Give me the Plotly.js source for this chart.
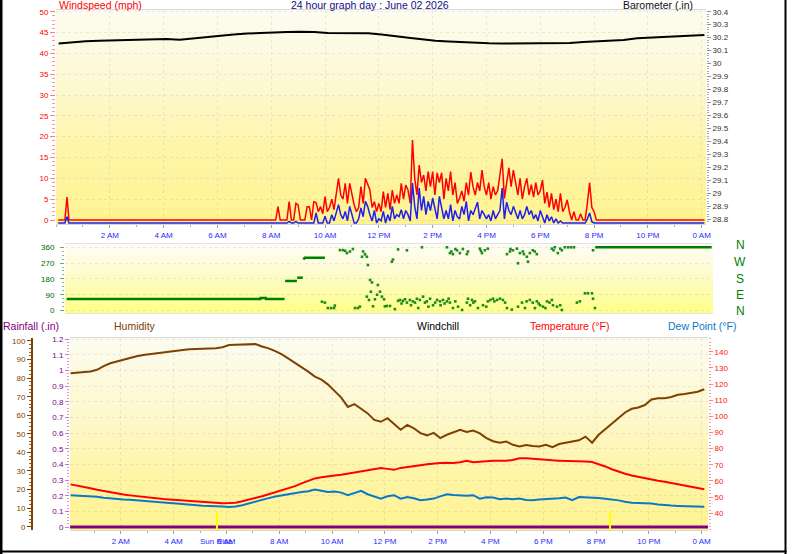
<!DOCTYPE html>
<html><head><meta charset="utf-8">
<script src="https://cdn.plot.ly/plotly-3.0.1.min.js"></script>
<style>html,body{margin:0;padding:0;background:#fff;}#chart{width:798px;height:554px;}</style>
</head><body><div id="chart"></div>
<script>
// ---------------- DATA ----------------
const tickHours = [2,4,6,8,10,12,14,16,18,20,22,24];
const tickLabels = ['2 AM','4 AM','6 AM','8 AM','10 AM','12 PM','2 PM','4 PM','6 PM','8 PM','10 PM','0 AM'];

// wind: calm/early points, active period (5-min steps from 8:00), late calm
const windEarlyHours = [0.08, 0.33, 0.41, 0.48, 7.95];
const gustEarly = [0, 0, 5.5, 0, 0];
const avgEarly  = [0, 0, 1.5, 0, 0];
const windActiveStart = 8.0;   // hour
const windActiveStepMin = 5;   // minutes
const gustActive = [
 0,0,0,3.2,0,0,0,0,4.4,0,0,4.0,
 3.6,0,0,0,3.2,3.2,0,4.4,4.2,2,3.2,1.5,
 5.6,2,3,5,2.5,7,10,6,5,8.8,4,8.8,
 6,3.6,2,3,8,4,10,8.4,7.2,3,4.4,2,
 4,2,6.8,3,6.4,2.5,7.2,4,6,4,8.8,5,
 8.4,7.2,4,19.2,10,6,13.2,9,10.8,7,11.6,8,
 11.6,6,11.3,9,11.3,5,10,7,11.6,6,9,4,
 5.2,7,4.5,9,6,11.5,8,6,9,7,12,8,
 6,9,5,8,6,7,10.8,14.7,5.2,9,12.5,8,
 12,9,6,10,5,8,10,6,8.5,5.5,9,6,
 7,9.6,4,6.7,3,6.4,2.5,5,2,6.4,2,3,
 4.8,2,0,2,0,0,1.5,0,0,4,8.9,3,
 2,0,0,0];
const avgActive = [
 0,0,0,0,0,0,0,0,0.4,0,0,0.4,
 0,0,0,0,0,0,0,0,2.4,0,0,0,
 1.6,0,0,2,0.5,2.5,4.4,2,1,2.8,0.5,4,
 2,0,0,1,3.6,1.5,5.2,4,2,0.5,3,0,
 1,0.5,2.8,0,2,0.5,4,1,2,1.5,3.2,1,
 3,2,0.5,9.6,4,1,8.4,3,6.4,2,5.2,3,
 6,3,1,6.4,4,1,3,1,4.4,0.5,3,1.5,
 1,4,2,5.2,0.5,3,2,3.6,5,1,3,2,
 1,2,0.5,3,1,2,3,8.4,1,5,3,2,
 4,2.5,1,3,1,2,4,2,3,1,2,0.5,
 3,1.5,0,2,0.5,1.5,0,1,0,0.5,0,0,
 0,0,0,0,0,0,0,0,0,1,2.4,0.3,
 0,0,0,0];
const windLateHours = [24.1];
const gustLate = [0];
const avgLate = [0];

// barometer, half-hour steps from 0:06
const baroStart = 0.1, baroStep = 0.5;
const baro = [30.155,30.165,30.172,30.176,30.178,30.18,30.182,30.186,30.19,30.184,
 30.195,30.208,30.215,30.225,30.232,30.237,30.24,30.243,30.246,30.244,
 30.236,30.234,30.233,30.233,30.225,30.21,30.2,30.188,30.176,30.17,
 30.164,30.158,30.156,30.155,30.156,30.156,30.158,30.16,30.158,30.166,
 30.17,30.176,30.182,30.195,30.2,30.205,30.211,30.215,30.22];

// wind direction: steady segments and scattered readings
const dirLineHours = [0.1,7.3,7.31,7.5,7.51,8.2,null,8.22,8.66,null,8.67,8.88,null,8.9,8.95,9.7,null,19.75,24.08];
const dirLineDeg   = [65,65,71,71,65,65,null,168,168,null,187,187,null,290,300,300,null,360,360];
const dirHours = [9.59,9.70,9.81,9.93,10.04,10.07,10.26,10.37,10.45,10.52,10.63,10.74,10.82,10.93,11.0,11.08,11.12,11.19,11.26,11.26,
 11.3,11.34,11.38,11.41,11.45,11.49,11.56,11.64,11.67,11.75,11.82,11.9,11.93,12.0,12.12,12.19,12.23,12.3,12.42,12.42,
 12.49,12.6,12.75,12.75,12.86,12.97,13.12,13.23,13.31,13.35,13.49,13.61,13.72,13.87,13.98,14.09,14.24,14.24,14.35,14.35,
 14.46,14.46,14.61,14.65,14.72,14.8,14.83,14.98,14.98,15.02,15.02,15.17,15.28,15.39,15.46,15.54,15.58,15.65,15.76,15.76,
 15.95,16.1,16.21,16.32,16.47,16.47,16.58,16.65,16.69,16.84,16.88,16.88,16.95,17.03,17.06,17.14,17.21,17.25,17.32,17.32,
 17.43,17.43,17.51,17.58,17.58,17.7,17.81,17.96,18.14,18.14,18.18,18.25,18.33,18.36,18.51,18.51,18.62,18.74,18.85,18.96,
 19.07,19.18,19.37,19.48,19.63,19.67,19.67,19.74,
 12.55,12.68,12.9,13.05,13.17,13.42,13.55,13.8,14.0,14.15,14.3,14.55,15.1,15.22,15.7,15.85,16.0,16.4,17.2,17.65,17.9,18.05,18.45,
 14.4,14.55,15.5,16.6,17.1,17.5,18.2,18.45];
const dirDeg = [50,45,14,14,14,28,344,344,340,327,336,350,14,14,22,306,336,320,306,79,
 259,60,174,107,160,24,64,90,145,107,79,64,24,26,26,278,290,8,55,348,
 60,55,45,343,60,52,67,60,360,79,52,67,30,60,52,60,52,360,45,327,
 14,321,343,22,327,3,350,45,321,67,336,60,52,14,352,327,30,343,52,352,
 67,60,67,60,14,321,336,5,343,352,269,22,327,45,336,14,306,278,60,327,
 45,343,14,52,321,30,22,52,60,352,30,360,22,327,3,343,360,360,360,360,
 45,52,98,98,98,67,343,14,
 40,64,30,45,14,45,22,45,30,40,67,52,30,45,22,60,52,45,52,40,14,45,30,
 336,350,340,350,321,336,343,352];

// bottom panel: quarter-hour steps from 0:06
const climStart = 0.1, climStep = 0.25;
const humidity = [82.6,83.0,83.3,83.6,84.5,86.5,88,89,90.2,91,
 91.8,92.5,93,93.3,94,94.4,94.6,95.2,95.5,95.6,
 95.8,96,96.1,96.6,97.8,97.9,98,98.2,98.3,97,
 96,94.5,92.8,90.5,88.2,85.8,83.5,80.8,79.2,76.5,
 73,69.5,64.5,66,63.5,61,57.5,56.5,58.4,55.5,
 52.2,54.8,53,50.4,49.2,50.5,47.7,49.5,51,52.2,
 51,51.8,50.2,47.7,46,45.2,45.9,44.1,43.2,44,
 43.5,43.2,44.1,42.8,44.5,45.3,45.9,46.5,48.5,45.2,
 49.5,52.5,55,58.5,61.5,63.5,64.2,65.5,68.5,69.2,
 69.2,69.8,71,71.5,72.2,72.7,74];
const temperature = [57.9,57.2,56.4,55.5,54.6,53.8,53,52.2,51.6,51.1,
 50.6,50.2,49.8,49.3,48.9,48.6,48.3,48,47.6,47.3,
 47,46.7,46.4,46.3,46.4,46.6,47.5,48.4,49.5,50.6,
 51.8,53,54.4,55.5,56.8,58.5,60,61.6,62.3,63,
 63.4,63.8,64.5,65.2,66,67,67.7,68.1,67.5,66.9,
 68.1,68.8,69.4,69.8,70.4,70.9,71.2,71.3,71.2,71.6,
 72.5,71.6,72,72.5,72.6,72.5,72.5,73,74,74,
 73.6,73.3,73,72.8,72.6,72.5,72.5,72.3,72.1,71.7,
 70.5,69,67.3,65.8,64.5,63.4,62.5,61.6,60.8,60.1,
 59.5,58.8,58.1,57.4,56.6,55.8,54.9];
const dewPoint = [51.2,51,50.8,50.6,50.2,49.7,49.2,48.8,48.6,48.4,
 48.1,48,47.6,47.1,46.7,46.4,46,45.6,45.3,45,
 44.7,44.5,44.5,44.2,43.9,44.2,45,46.2,47.4,48.5,
 49.4,50.4,51.2,52,52.6,53.2,53.7,54.7,54,53.2,
 53.5,52.8,51.2,52.5,53.9,51.8,50.5,49.1,50.5,51.2,
 49.1,50.1,49.3,48.1,48.5,49.1,50.5,51.8,51.3,51.2,
 50.8,51.2,49.1,50,49.8,48.7,49.2,48.7,49.1,48.3,
 48.1,48.6,48.7,49,49.3,49.8,48.1,50.1,50,49.8,
 49.5,49,48.7,48,47.2,46.5,46.4,46.4,46,45.5,
 45,44.8,44.6,44.4,44.3,44.1,44];
const rainHours = [0.08, 24.24];
const rainfall = [0, 0];
const sunriseHour = 5.64, sunsetHour = 20.53;

// ---------------- BUILD ----------------
const W = 798, H = 554;
const X = p => p / W, Y = p => 1 - p / H;
const FONT = 'Liberation Sans, Arial, sans-serif';

const activeHours = gustActive.map((_, i) => windActiveStart + i * windActiveStepMin / 60);
const windHours = windEarlyHours.concat(activeHours, windLateHours);
const gust = gustEarly.concat(gustActive, gustLate);
const avgWind = avgEarly.concat(avgActive, avgLate);
const baroHours = baro.map((_, i) => baroStart + i * baroStep);
const climHours = humidity.map((_, i) => climStart + i * climStep);

const traces = [
  {x: windHours, y: gust, xaxis: 'x', yaxis: 'y', mode: 'lines', line: {color: '#ff0000', width: 1.5}},
  {x: baroHours, y: baro, xaxis: 'x', yaxis: 'y2', mode: 'lines', line: {color: '#000000', width: 2}},
  {x: windHours, y: avgWind, xaxis: 'x', yaxis: 'y3', mode: 'lines', line: {color: '#2020ee', width: 1.5}},
  {x: dirLineHours, y: dirLineDeg, xaxis: 'x2', yaxis: 'y4', mode: 'lines', connectgaps: false, line: {color: '#008000', width: 2.5}},
  {x: dirHours, y: dirDeg, xaxis: 'x2', yaxis: 'y4', mode: 'markers', marker: {color: '#1a8c1a', size: 2.6, symbol: 'square'}},
  {x: rainHours, y: rainfall, xaxis: 'x3', yaxis: 'y5', mode: 'lines', line: {color: '#800080', width: 3}},
  {x: climHours, y: humidity, xaxis: 'x3', yaxis: 'y6', mode: 'lines', line: {color: '#804000', width: 2}},
  {x: climHours, y: temperature, xaxis: 'x3', yaxis: 'y7', mode: 'lines', line: {color: '#ff0000', width: 2}},
  {x: climHours, y: dewPoint, xaxis: 'x3', yaxis: 'y7', mode: 'lines', line: {color: '#0a78c8', width: 2}}
];

// gradient backgrounds
function hex2rgb(h) { return [1,3,5].map(i => parseInt(h.substr(i, 2), 16)); }
function interp(stops, t) {
  for (let i = 0; i < stops.length - 1; i++) {
    const [t0, c0] = stops[i], [t1, c1] = stops[i + 1];
    if (t >= t0 && t <= t1) {
      const f = (t - t0) / (t1 - t0), a = hex2rgb(c0), b = hex2rgb(c1);
      return 'rgb(' + a.map((v, k) => Math.round(v + (b[k] - v) * f)).join(',') + ')';
    }
  }
  return stops[stops.length - 1][1];
}
const shapes = [];
function grad(xa, ya, stops, n) {
  for (let i = 0; i < n; i++) {
    shapes.push({type: 'rect', xref: xa + ' domain', yref: ya + ' domain', x0: 0, x1: 1,
      y0: Math.max(0, 1 - (i + 1) / n - 0.003), y1: 1 - i / n,
      fillcolor: interp(stops, (i + 0.5) / n), line: {width: 0}, layer: 'below'});
  }
}
grad('x', 'y', [[0, '#fcfcf2'], [0.4, '#fdf8cc'], [0.65, '#fef5a8'], [1, '#fff390']], 40);
grad('x2', 'y4', [[0, '#fdfdf6'], [0.5, '#fefbc4'], [1, '#ffff84']], 20);
grad('x3', 'y5', [[0, '#fcfcf2'], [0.4, '#fdf8cc'], [0.7, '#fef5a8'], [1, '#fff390']], 40);

// frame
shapes.push({type: 'line', xref: 'paper', yref: 'paper', x0: X(1), x1: X(1), y0: 0, y1: 1, line: {color: '#000', width: 3}});
shapes.push({type: 'line', xref: 'paper', yref: 'paper', x0: X(785.5), x1: X(785.5), y0: 0, y1: 1, line: {color: '#000', width: 2}});
shapes.push({type: 'line', xref: 'paper', yref: 'paper', x0: 0, x1: X(786.5), y0: Y(551.5), y1: Y(551.5), line: {color: '#000', width: 2}});
// sunrise / sunset markers
[sunriseHour, sunsetHour].forEach(h => shapes.push({type: 'line', xref: 'x3', yref: 'paper', x0: h, x1: h,
  y0: Y(530), y1: Y(511), line: {color: '#ffff00', width: 2}}));

const grid = {showgrid: true, gridcolor: 'rgba(170,170,150,0.22)', griddash: 'dot', gridwidth: 1};
const xBase = Object.assign({tickmode: 'array', tickvals: tickHours, ticktext: tickLabels, ticks: 'outside', ticklen: 3,
  tickcolor: '#a0a0a0', tickfont: {size: 8, color: '#2a2aff', family: FONT}, showline: true, linecolor: '#d8d8d8',
  mirror: true, zeroline: false,
  minor: {tickmode: 'linear', tick0: 0, dtick: 1, ticks: 'outside', ticklen: 2, tickcolor: '#b0b0b0', showgrid: false}}, grid);

const annFont = (c, s) => ({family: FONT, size: s || 10.5, color: c});
const ann = (text, x, y, xa, c, s) => ({text, x: X(x), y: Y(y), xref: 'paper', yref: 'paper', xanchor: xa,
  yanchor: 'middle', showarrow: false, font: annFont(c, s)});

const annotations = [
  ann('Windspeed (mph)', 57, 5, 'left', '#ff0000'),
  ann('24 hour graph day : June 02 2026', 370, 5, 'center', '#101080'),
  ann('Barometer (.in)', 695, 5, 'right', '#111111'),
  ann('Rainfall (.in)', 1, 325.5, 'left', '#800080'),
  ann('Humidity', 112, 325.5, 'left', '#804000'),
  ann('Windchill', 415, 325.5, 'left', '#000000'),
  ann('Temperature (°F)', 528, 325.5, 'left', '#ff0000'),
  ann('Dew Point (°F)', 666, 325.5, 'left', '#0a78c8'),
  ann('N', 740, 245, 'center', '#008000', 12),
  ann('W', 740, 262, 'center', '#008000', 12),
  ann('S', 740, 279, 'center', '#008000', 12),
  ann('E', 740, 295, 'center', '#008000', 12),
  ann('N', 740, 311, 'center', '#008000', 12),
  {text: 'Sun Rise', x: sunriseHour, y: Y(541), xref: 'x3', yref: 'paper', xanchor: 'center', yanchor: 'middle',
    showarrow: false, font: annFont('#2a2aff', 8)}
];

const layout = {
  width: W, height: H, margin: {l: 0, r: 0, t: 0, b: 0}, showlegend: false,
  paper_bgcolor: '#ffffff', plot_bgcolor: '#ffffff', font: {family: FONT},
  xaxis: Object.assign({}, xBase, {domain: [X(56), X(706)], range: [0, 24.16], anchor: 'y'}),
  yaxis: Object.assign({domain: [Y(224), Y(10)], range: [-0.96, 50.41], anchor: 'x', tick0: 0, dtick: 5,
    ticks: 'outside', ticklen: 5, tickcolor: '#ff8080', tickfont: {size: 8, color: '#ff0000'}, zeroline: false,
    minor: {tick0: 0, dtick: 1, ticks: 'outside', ticklen: 3, tickcolor: '#ff9a9a', showgrid: false}}, grid),
  yaxis2: {overlaying: 'y', side: 'right', anchor: 'x', range: [28.764, 30.413], tick0: 28.8, dtick: 0.1,
    ticks: 'outside', ticklen: 4, tickcolor: '#909090', tickfont: {size: 8, color: '#303030'}, showgrid: false, zeroline: false,
    minor: {tick0: 28.8, dtick: 0.02, ticks: 'outside', ticklen: 2, tickcolor: '#a8a8a8', showgrid: false}},
  yaxis3: {overlaying: 'y', anchor: 'x', range: [-0.24, 51.13], visible: false},
  xaxis2: {domain: [X(65), X(713)], range: [0.037, 24.13], anchor: 'y4', showticklabels: false, ticks: '',
    showline: true, linecolor: '#e2e2e2', mirror: true, showgrid: false, zeroline: false},
  yaxis4: Object.assign({domain: [Y(313), Y(244)], range: [-14.2, 378.7], anchor: 'x2', tickmode: 'array',
    tickvals: [0, 90, 180, 270, 360], ticks: 'outside', ticklen: 4, tickcolor: '#70a870',
    tickfont: {size: 8, color: '#006400'}, zeroline: false, ticklabelstandoff: 4,
    minor: {tickmode: 'linear', tick0: 0, dtick: 22.5, ticks: 'outside', ticklen: 2, tickcolor: '#88b888', showgrid: false}}, grid),
  xaxis3: Object.assign({}, xBase, {domain: [X(70), X(708)], range: [0.076, 24.24], anchor: 'y5'}),
  yaxis5: Object.assign({domain: [Y(530), Y(338)], range: [-0.0192, 1.2083], anchor: 'x3', tick0: 0, dtick: 0.1,
    ticks: 'outside', ticklen: 4, tickcolor: '#d070d0', tickfont: {size: 8, color: '#800080'}, zeroline: false,
    minor: {tick0: 0, dtick: 0.02, ticks: 'outside', ticklen: 2, tickcolor: '#d898d8', showgrid: false}}, grid),
  yaxis6: {overlaying: 'y5', anchor: 'free', position: X(32), side: 'left', range: [-1.78, 101.6], tick0: 0, dtick: 10,
    ticks: 'outside', ticklen: 4, tickcolor: '#804000', tickfont: {size: 8, color: '#804000'}, showline: true,
    linecolor: '#804000', linewidth: 2, showgrid: false, zeroline: false,
    minor: {tick0: 0, dtick: 2, ticks: 'outside', ticklen: 2, tickcolor: '#9a6030', showgrid: false}},
  yaxis7: {overlaying: 'y5', side: 'right', anchor: 'x3', range: [29.67, 148.5], tickmode: 'array',
    tickvals: [40, 50, 60, 70, 80, 90, 100, 110, 120, 130, 140], ticks: 'outside', ticklen: 4, tickcolor: '#ff8080',
    tickfont: {size: 8, color: '#ff1010'}, showgrid: false, zeroline: false,
    minor: {tickmode: 'linear', tick0: 0, dtick: 2, ticks: 'outside', ticklen: 2, tickcolor: '#ff9a9a', showgrid: false}},
  shapes, annotations
};

Plotly.newPlot('chart', traces, layout, {staticPlot: true, displayModeBar: false});
</script></body></html>
